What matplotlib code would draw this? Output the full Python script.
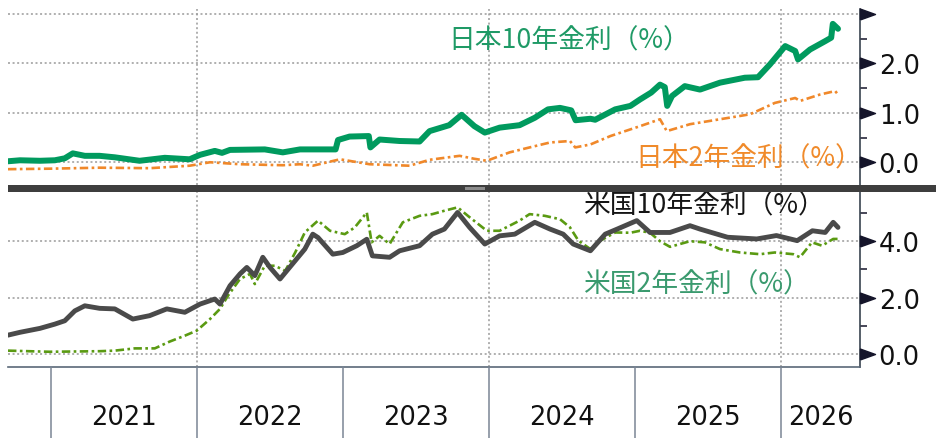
import matplotlib
matplotlib.use("Agg")
import matplotlib.pyplot as plt
import matplotlib.dates as mdates
from matplotlib.patches import Rectangle
from matplotlib.ticker import FixedLocator
import pandas as pd

# ---------------- data ----------------
jp10_dates = ["2020-09-16", "2020-10-16", "2020-12-05", "2021-01-11", "2021-02-05", "2021-02-25",
              "2021-03-27", "2021-05-03", "2021-06-10", "2021-08-11", "2021-10-13", "2021-12-14",
              "2022-01-09", "2022-02-15", "2022-03-05", "2022-03-25", "2022-06-20", "2022-08-04",
              "2022-09-16", "2022-12-14", "2022-12-20", "2023-01-18", "2023-03-07", "2023-03-11",
              "2023-04-03", "2023-05-23", "2023-07-12", "2023-08-06", "2023-09-24", "2023-10-25",
              "2023-11-26", "2023-12-22", "2024-01-28", "2024-03-18", "2024-04-25", "2024-05-28",
              "2024-06-27", "2024-07-25", "2024-08-05", "2024-09-11", "2024-09-23", "2024-11-12",
              "2024-12-20", "2025-01-13", "2025-02-10", "2025-03-04", "2025-03-16", "2025-03-22",
              "2025-04-03", "2025-05-05", "2025-06-12", "2025-08-01", "2025-10-02", "2025-11-04",
              "2025-12-04", "2026-01-11", "2026-02-05", "2026-02-12", "2026-03-14", "2026-04-21",
              "2026-05-06", "2026-05-10", "2026-05-23"]
jp10_vals = [0.02, 0.04, 0.03, 0.04, 0.08, 0.18,
             0.13, 0.13, 0.10, 0.03, 0.09, 0.06,
             0.15, 0.23, 0.19, 0.25, 0.26, 0.20,
             0.26, 0.26, 0.45, 0.52, 0.53, 0.30,
             0.46, 0.43, 0.42, 0.63, 0.75, 0.96,
             0.73, 0.60, 0.70, 0.75, 0.90, 1.07,
             1.10, 1.05, 0.85, 0.88, 0.86, 1.07,
             1.14, 1.27, 1.41, 1.57, 1.52, 1.14,
             1.34, 1.54, 1.47, 1.61, 1.71, 1.72,
             1.98, 2.35, 2.25, 2.08, 2.28, 2.45,
             2.52, 2.80, 2.70]

jp2_dates = ["2020-09-16", "2020-12-29", "2021-05-03", "2021-09-05", "2021-12-14", "2022-02-03",
             "2022-04-19", "2022-08-04", "2022-09-16", "2022-10-18", "2022-12-25", "2023-03-09",
             "2023-06-17", "2023-08-06", "2023-10-20", "2023-11-26", "2023-12-27", "2024-02-22",
             "2024-04-12", "2024-06-02", "2024-07-22", "2024-08-04", "2024-09-11", "2024-10-31",
             "2025-01-13", "2025-03-04", "2025-03-21", "2025-05-18", "2025-08-01", "2025-10-15",
             "2025-12-16", "2026-02-05", "2026-02-17", "2026-04-08", "2026-05-16", "2026-05-23"]
jp2_vals = [-0.14, -0.13, -0.11, -0.12, -0.07, 0.00,
            -0.04, -0.06, -0.04, -0.07, 0.06, -0.04,
            -0.07, 0.05, 0.13, 0.07, 0.03, 0.20,
            0.30, 0.40, 0.43, 0.30, 0.36, 0.53,
            0.73, 0.87, 0.63, 0.77, 0.87, 0.97,
            1.20, 1.30, 1.24, 1.37, 1.44, 1.37]

us10_dates = ["2020-09-16", "2020-10-16", "2020-12-05", "2021-01-11", "2021-02-05", "2021-03-02",
              "2021-03-27", "2021-05-03", "2021-06-10", "2021-07-25", "2021-09-05", "2021-10-18",
              "2021-12-02", "2022-01-09", "2022-02-15", "2022-02-28", "2022-03-25", "2022-04-19",
              "2022-05-06", "2022-05-26", "2022-06-15", "2022-07-03", "2022-07-28", "2022-09-04",
              "2022-09-28", "2022-10-18", "2022-10-31", "2022-12-07", "2023-01-01", "2023-02-05",
              "2023-03-02", "2023-03-16", "2023-04-28", "2023-05-23", "2023-07-12", "2023-08-13",
              "2023-09-12", "2023-10-15", "2023-11-14", "2023-12-22", "2024-01-28", "2024-03-06",
              "2024-04-25", "2024-06-02", "2024-07-05", "2024-07-30", "2024-09-11", "2024-10-18",
              "2024-11-17", "2025-01-05", "2025-02-07", "2025-03-29", "2025-05-18", "2025-06-12",
              "2025-08-20", "2025-11-01", "2025-12-20", "2026-02-10", "2026-03-20", "2026-04-21",
              "2026-05-11", "2026-05-23"]
us10_vals = [0.67, 0.77, 0.91, 1.06, 1.18, 1.53,
             1.71, 1.62, 1.60, 1.24, 1.36, 1.60,
             1.48, 1.77, 1.95, 1.77, 2.42, 2.84,
             3.07, 2.78, 3.43, 3.07, 2.66, 3.31,
             3.72, 4.25, 4.13, 3.54, 3.60, 3.84,
             4.07, 3.48, 3.43, 3.66, 3.84, 4.25,
             4.43, 5.02, 4.49, 3.90, 4.19, 4.25,
             4.67, 4.43, 4.25, 3.90, 3.66, 4.25,
             4.43, 4.73, 4.31, 4.31, 4.55, 4.43,
             4.14, 4.08, 4.20, 4.02, 4.37, 4.31,
             4.67, 4.49]

us2_dates = ["2020-09-16", "2020-12-29", "2021-05-03", "2021-06-10", "2021-07-30", "2021-09-18",
             "2021-10-25", "2021-12-02", "2022-01-01", "2022-02-03", "2022-02-28", "2022-03-20",
             "2022-04-19", "2022-05-14", "2022-05-26", "2022-06-20", "2022-07-15", "2022-08-10",
             "2022-09-04", "2022-09-28", "2022-10-31", "2022-11-30", "2023-01-06", "2023-01-31",
             "2023-03-02", "2023-03-14", "2023-04-03", "2023-04-28", "2023-05-31", "2023-07-12",
             "2023-08-13", "2023-09-12", "2023-10-15", "2023-11-14", "2023-12-27", "2024-01-28",
             "2024-03-18", "2024-04-12", "2024-05-20", "2024-06-27", "2024-07-22", "2024-08-12",
             "2024-09-11", "2024-10-06", "2024-11-12", "2024-12-20", "2025-01-13", "2025-02-07",
             "2025-03-04", "2025-03-29", "2025-05-18", "2025-06-24", "2025-08-01", "2025-09-20",
             "2025-11-09", "2025-12-16", "2026-01-31", "2026-02-17", "2026-03-19", "2026-04-13",
             "2026-05-11", "2026-05-23"]
us2_vals = [0.12, 0.08, 0.10, 0.12, 0.20, 0.20,
            0.44, 0.65, 0.83, 1.24, 1.60, 2.07,
            2.66, 2.84, 2.48, 3.13, 3.13, 2.95,
            3.60, 4.31, 4.73, 4.37, 4.25, 4.49,
            5.02, 3.96, 4.19, 3.90, 4.67, 4.90,
            4.96, 5.08, 5.20, 4.85, 4.37, 4.37,
            4.73, 4.96, 4.90, 4.78, 4.49, 4.02,
            3.72, 4.02, 4.31, 4.30, 4.37, 4.30,
            4.00, 3.80, 4.00, 3.96, 3.72, 3.60,
            3.54, 3.60, 3.54, 3.43, 3.96, 3.84,
            4.08, 4.08]

jp_yticks = [0.0, 1.0, 2.0, 3.0]
jp_yticklabels = ["0.0", "1.0", "2.0", ""]
jp_minor = [0.5, 1.5, 2.5]
us_yticks = [0.0, 2.0, 4.0]
us_yticklabels = ["0.0", "2.0", "4.0"]
us_minor = [1.0, 3.0, 5.0]
year_labels = ["2021", "2022", "2023", "2024", "2025", "2026"]
year_bounds = ["2021-01-01", "2022-01-01", "2023-01-01", "2024-01-01", "2025-01-01", "2026-01-01"]
grid_dates = ["2022-01-01", "2024-01-01", "2026-01-01"]
label_jp10 = "日本10年金利（%）"
label_jp2 = "日本2年金利（%）"
label_us10 = "米国10年金利（%）"
label_us2 = "米国2年金利（%）"

# ---------------- figure ----------------
W, H = 937, 439
fig = plt.figure(figsize=(W / 100, H / 100), dpi=100)
fig.patch.set_facecolor("white")

def rect(l, t, r, b):
    return [l / W, 1 - b / H, (r - l) / W, (b - t) / H]

ax1 = fig.add_axes(rect(8, 10, 860, 186))
ax2 = fig.add_axes(rect(8, 192, 860, 368))

xmin = pd.Timestamp("2020-09-16")
xmax = pd.Timestamp("2026-07-17")

C_JP10 = "#009a5e"
C_JP2 = "#f0882a"
C_US10 = "#4a4a4a"
C_US2 = "#5a9a12"
C_GRID = "#9a9a9a"
C_TICK = "#15152a"
C_SPINE = "#3a4450"

tri = [(0, -0.36), (1, 0), (0, 0.36), (0, -0.36)]

def style_axis(ax, yticks, ylabels, minor, ylim):
    ax.set_xlim(xmin, xmax)
    ax.set_ylim(*ylim)
    ax.set_facecolor("none")
    for s in ["top", "left"]:
        ax.spines[s].set_visible(False)
    ax.spines["right"].set_color(C_SPINE)
    ax.spines["right"].set_linewidth(1.2)
    ax.spines["bottom"].set_color("#5a6878")
    ax.spines["bottom"].set_linewidth(1.2)
    ax.yaxis.tick_right()
    ax.set_yticks(yticks)
    ax.set_yticklabels(ylabels)
    ax.yaxis.set_minor_locator(FixedLocator(minor))
    ax.tick_params(axis="y", which="major", length=0, pad=13.5, labelsize=18.5,
                   labelcolor="#111111", right=True, left=False)
    ax.tick_params(axis="y", which="minor", length=5, width=1.1, color=C_TICK,
                   direction="out", right=True, left=False)
    ax.set_xticks(pd.to_datetime(grid_dates))
    ax.tick_params(axis="x", which="both", length=0, labelbottom=False)
    ax.grid(True, axis="both", which="major", color=C_GRID, linestyle=(0, (1.3, 1.7)),
            linewidth=1.1, zorder=0)
    ax.set_axisbelow(True)
    for v in yticks:
        ax.plot([1.0], [v], marker=tri, markersize=21.6, color=C_TICK,
                transform=ax.get_yaxis_transform(), clip_on=False, zorder=5,
                linestyle="none")

style_axis(ax1, jp_yticks, jp_yticklabels, jp_minor, (-0.46, 3.10))
ax1.spines["bottom"].set_visible(False)
style_axis(ax2, us_yticks, us_yticklabels, us_minor, (-0.46, 5.78))

# series
ax1.plot(pd.to_datetime(jp2_dates), jp2_vals, color=C_JP2, lw=1.9,
         linestyle=(0, (3.2, 1.3, 1.0, 1.3)), zorder=3)
ax1.plot(pd.to_datetime(jp10_dates), jp10_vals, color=C_JP10, lw=4.3,
         solid_joinstyle="round", solid_capstyle="round", zorder=4)
ax2.plot(pd.to_datetime(us2_dates), us2_vals, color=C_US2, lw=1.9,
         linestyle=(0, (3.2, 1.3, 1.0, 1.3)), zorder=3)
ax2.plot(pd.to_datetime(us10_dates), us10_vals, color=C_US10, lw=3.5,
         solid_joinstyle="round", solid_capstyle="round", zorder=4)

# year separators and labels below the axis
bounds = pd.to_datetime(year_bounds)
for b in bounds:
    ax2.plot([b, b], [0, -0.5], color="#7a8595", lw=1.1,
             transform=ax2.get_xaxis_transform(), clip_on=False, zorder=5)
ends = list(bounds[1:]) + [xmax]
for lab, s, e in zip(year_labels, bounds, ends):
    mid = s + (e - s) / 2
    ax2.text(mid, -0.285, lab, transform=ax2.get_xaxis_transform(), ha="center",
             va="center", fontsize=18.5, color="#111111", family="DejaVu Sans")

# separator bar between the panels
fig.patches.append(Rectangle((8 / W, 1 - 192.5 / H), (W - 8) / W, 6.5 / H,
                             transform=fig.transFigure, facecolor="#3e3e3e",
                             edgecolor="none", zorder=10))
fig.patches.append(Rectangle((465 / W, 1 - 190.5 / H), 20 / W, 2.5 / H,
                             transform=fig.transFigure, facecolor="#8c8c8c",
                             edgecolor="none", zorder=11))

# series labels
cjk = ["Noto Sans CJK JP", "DejaVu Sans"]
fs_lab = 19.3
fig.text(448 / W, 1 - 41 / H, label_jp10, color="#1f9a66", fontsize=fs_lab,
         family=cjk, ha="left", va="center")
fig.text(635 / W, 1 - 159 / H, label_jp2, color="#f08a2a", fontsize=fs_lab,
         family=cjk, ha="left", va="center")
fig.text(583 / W, 1 - 206 / H, label_us10, color="#151515", fontsize=fs_lab,
         family=cjk, ha="left", va="center")
fig.text(583 / W, 1 - 285 / H, label_us2, color="#3a9a6e", fontsize=fs_lab,
         family=cjk, ha="left", va="center")

fig.savefig("out.png", dpi=100)
